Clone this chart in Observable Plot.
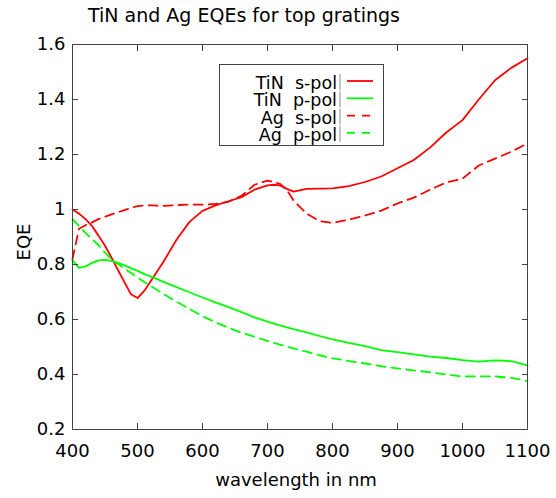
<!DOCTYPE html>
<html><head><meta charset="utf-8">
<script src="https://cdn.jsdelivr.net/npm/d3@7"></script>
<script src="https://cdn.jsdelivr.net/npm/@observablehq/plot@0.6"></script>
<style>
html,body{margin:0;padding:0;background:#fff;}
#chart{position:relative;width:556px;height:498px;}
</style></head><body><div id="chart"></div>
<script>
const title = "TiN and Ag EQEs for top gratings";
const xLabel = "wavelength in nm";
const yLabel = "EQE";

const wavelength = [400,410,420,430,440,450,460,470,480,490,500,510,520,540,560,580,600,620,640,660,680,700,710,720,730,740,760,780,800,825,850,875,900,925,950,975,1000,1025,1050,1075,1100];
const tinS = [1.00,0.985,0.965,0.94,0.905,0.868,0.825,0.78,0.735,0.692,0.678,0.703,0.738,0.81,0.89,0.955,0.995,1.015,1.03,1.045,1.072,1.088,1.09,1.087,1.075,1.065,1.075,1.076,1.077,1.085,1.10,1.12,1.15,1.18,1.225,1.28,1.325,1.40,1.47,1.515,1.55];
const tinP = [0.815,0.788,0.793,0.806,0.815,0.817,0.813,0.806,0.797,0.787,0.777,0.766,0.757,0.737,0.718,0.699,0.68,0.662,0.645,0.627,0.608,0.592,0.585,0.578,0.571,0.565,0.553,0.54,0.528,0.515,0.503,0.489,0.481,0.473,0.465,0.46,0.452,0.447,0.451,0.449,0.433];
const agS = [0.82,0.93,0.943,0.953,0.965,0.974,0.982,0.99,0.998,1.006,1.012,1.015,1.015,1.013,1.016,1.018,1.018,1.02,1.028,1.05,1.09,1.105,1.10,1.092,1.07,1.033,0.985,0.958,0.951,0.963,0.978,0.996,1.022,1.043,1.072,1.098,1.112,1.16,1.185,1.21,1.24];
const agP = [0.965,0.94,0.915,0.893,0.87,0.843,0.818,0.802,0.785,0.769,0.753,0.737,0.722,0.693,0.665,0.638,0.612,0.59,0.57,0.552,0.537,0.522,0.515,0.508,0.501,0.495,0.483,0.47,0.459,0.449,0.44,0.43,0.422,0.415,0.408,0.40,0.393,0.393,0.393,0.388,0.376];

const xTicks = [400,500,600,700,800,900,1000,1100];
const xTickLabels = ["400","500","600","700","800","900","1000","1100"];
const yTicks = [0.2,0.4,0.6,0.8,1.0,1.2,1.4,1.6];
const yTickLabels = ["0.2","0.4","0.6","0.8","1","1.2","1.4","1.6"];

const seriesNames = ["TiN  s-pol","TiN  p-pol","Ag  s-pol","Ag  p-pol"];
const seriesColors = ["#ff0000","#00ff00","#ff0000","#00ff00"];
const seriesDash = [null,null,"9,6","9,6"];
const seriesValues = [tinS, tinP, agS, agP];

const font = "'DejaVu Sans', sans-serif";
const axisColor = "#444";

const lineMarks = seriesValues.map((vals, i) => Plot.line(wavelength, {
  x: (d) => d,
  y: (d, j) => vals[j],
  stroke: seriesColors[i],
  strokeWidth: 1.8,
  strokeDasharray: seriesDash[i]
}));

const chart = Plot.plot({
  width: 556, height: 498,
  marginLeft: 72, marginRight: 29, marginTop: 44, marginBottom: 69,
  style: {fontFamily: font, fontSize: "18px", color: "#000", background: "#fff"},
  x: {domain: [400, 1100]},
  y: {domain: [0.2, 1.6]},
  marks: [
    ...lineMarks,
    Plot.frame({stroke: axisColor, strokeWidth: 1}),
    Plot.axisX({ticks: xTicks, anchor: "bottom", tickSize: 6, dy: -6, text: null, label: null, stroke: axisColor}),
    Plot.axisX({ticks: xTicks, anchor: "top", tickSize: 6, dy: 6, text: null, label: null, stroke: axisColor}),
    Plot.axisY({ticks: yTicks, anchor: "left", tickSize: 6, dx: 6, text: null, label: null, stroke: axisColor}),
    Plot.axisY({ticks: yTicks, anchor: "right", tickSize: 6, dx: -6, text: null, label: null, stroke: axisColor}),
    Plot.axisX({ticks: xTicks, anchor: "bottom", tickSize: 0, tickPadding: 15, label: null, fill: "#000",
      tickFormat: (d) => xTickLabels[xTicks.indexOf(d)]}),
    Plot.axisY({ticks: yTicks, anchor: "left", tickSize: 0, tickPadding: 7, label: null, fill: "#000",
      tickFormat: (d) => yTickLabels[yTicks.indexOf(d)]})
  ]
});

document.getElementById("chart").appendChild(chart);

const svg = d3.select(chart);
svg.append("text").attr("x", 244).attr("y", 22).attr("text-anchor", "middle")
  .attr("font-family", font).attr("font-size", 19).attr("fill", "#000").text(title);
svg.append("text").attr("x", 296).attr("y", 486).attr("text-anchor", "middle")
  .attr("font-family", font).attr("font-size", 18).attr("fill", "#000").text(xLabel);
svg.append("text").attr("transform", "translate(30,242) rotate(-90)").attr("text-anchor", "middle")
  .attr("font-family", font).attr("font-size", 18).attr("fill", "#000").text(yLabel);

// legend
const lg = svg.append("g");
lg.append("rect").attr("x", 219.5).attr("y", 64.5).attr("width", 164).attr("height", 81)
  .attr("fill", "#fff").attr("stroke", axisColor);
seriesNames.forEach((name, i) => {
  const base = 89 + i * 17.3;
  lg.append("text").attr("x", 337).attr("y", base).attr("text-anchor", "end")
    .attr("font-family", font).attr("font-size", 17.5).attr("fill", "#000")
    .style("white-space", "pre").text(name);
  lg.append("line").attr("x1", 340).attr("x2", 340).attr("y1", base - 15).attr("y2", base + 1)
    .attr("stroke", "#888").attr("stroke-width", 1);
  lg.append("line").attr("x1", 347).attr("x2", 373).attr("y1", base - 8).attr("y2", base - 8)
    .attr("stroke", seriesColors[i]).attr("stroke-width", 1.8)
    .attr("stroke-dasharray", seriesDash[i] ? "8,7" : null);
});
</script>
</body></html>
